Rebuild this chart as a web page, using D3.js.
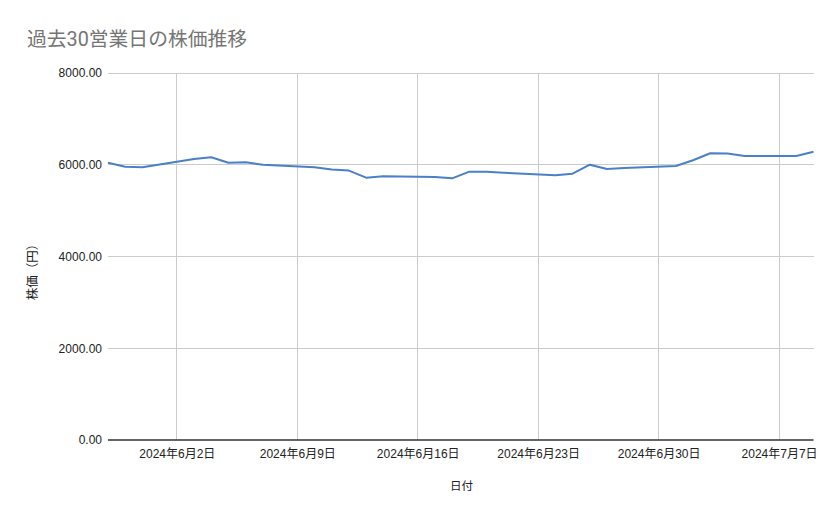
<!DOCTYPE html>
<html><head><meta charset="utf-8">
<script src="https://cdn.jsdelivr.net/npm/d3@7/dist/d3.min.js"></script>
<style>body{margin:0;background:#fff;}svg{display:block;font-family:"Liberation Sans",Arial,"Noto Sans CJK JP",sans-serif;}</style>
</head><body>
<svg id="c" width="839" height="519"></svg>
<script>
const dates = ["2024-05-29","2024-05-30","2024-05-31","2024-06-03","2024-06-04","2024-06-05","2024-06-06","2024-06-07",
"2024-06-10","2024-06-11","2024-06-12","2024-06-13","2024-06-14","2024-06-17","2024-06-18","2024-06-19","2024-06-20","2024-06-21",
"2024-06-24","2024-06-25","2024-06-26","2024-06-27","2024-06-28","2024-07-01","2024-07-02","2024-07-03","2024-07-04","2024-07-05",
"2024-07-08","2024-07-09"];
const prices = [6045,5958,5945,6126,6163,6045,6054,6002,
5945,5895,5872,5719,5750,5735,5704,5849,5849,5827,
5772,5805,6002,5908,5930,5973,6097,6250,6244,6191,
6191,6285];
const yTicks = [0,2000,4000,6000,8000];
const xTickDates = ["2024-06-02","2024-06-09","2024-06-16","2024-06-23","2024-06-30","2024-07-07"];
const title = "過去30営業日の株価推移";
const yTitle = "株価（円）";
const xTitle = "日付";

const parse = d3.utcParse("%Y-%m-%d");
const data = dates.map((d,i)=>({date:parse(d), v:prices[i]}));
const svg = d3.select("#c");
const L=108, R=813.5, T=73, B=440;
const x = d3.scaleUtc().domain([parse("2024-05-29"), parse("2024-07-09")]).range([L,R]);
const y = d3.scaleLinear().domain([0,8000]).range([B,T]);

svg.append("text").attr("x",27).attr("y",46).attr("fill","#757575").attr("font-size",19.8)
  .attr("font-family","Roboto,'Noto Sans CJK JP',sans-serif").text(title);

// vertical grid
svg.append("g").selectAll("line").data(xTickDates).join("line")
  .attr("x1",d=>x(parse(d))).attr("x2",d=>x(parse(d))).attr("y1",T).attr("y2",B)
  .attr("stroke","#cccccc").attr("stroke-width",1).attr("shape-rendering","crispEdges");
// horizontal grid
svg.append("g").selectAll("line").data(yTicks.filter(t=>t>0)).join("line")
  .attr("x1",L).attr("x2",R).attr("y1",d=>y(d)).attr("y2",d=>y(d))
  .attr("stroke","#cccccc").attr("stroke-width",1).attr("shape-rendering","crispEdges");

// y axis labels
const yAxis = d3.axisLeft(y).tickValues(yTicks).tickSize(0).tickPadding(6).tickFormat(d=>d3.format(".2f")(d));
const gy = svg.append("g").attr("transform",`translate(${L},0)`).call(yAxis);
gy.select(".domain").remove();
gy.selectAll("text").attr("font-size",12).attr("fill","#222").attr("font-family","'Liberation Sans',Arial,sans-serif");

// x axis
const xAxis = d3.axisBottom(x).tickValues(xTickDates.map(parse)).tickSize(0).tickPadding(9)
  .tickFormat(d=>`${d.getUTCFullYear()}年${d.getUTCMonth()+1}月${d.getUTCDate()}日`);
const gx = svg.append("g").attr("transform",`translate(0,${B})`).call(xAxis);
gx.select(".domain").remove();
gx.selectAll("text").attr("font-size",12).attr("fill","#222").attr("font-family","'Liberation Sans',Arial,'Noto Sans CJK JP',sans-serif");

// baseline
svg.append("line").attr("x1",L).attr("x2",R).attr("y1",y(0)).attr("y2",y(0))
  .attr("stroke","#333").attr("stroke-width",1.3);

// line
svg.append("path").datum(data)
  .attr("d",d3.line().x(d=>x(d.date)).y(d=>y(d.v)))
  .attr("fill","none").attr("stroke","#4a7fc9").attr("stroke-width",2).attr("stroke-linejoin","round");

svg.append("text").attr("x",461.5).attr("y",490).attr("text-anchor","middle").attr("font-size",11.5).attr("fill","#222").text(xTitle);
svg.append("text").attr("transform","translate(37,269) rotate(-90)").attr("text-anchor","middle").attr("font-size",12.5).attr("fill","#222").text(yTitle);
</script>
</body></html>
